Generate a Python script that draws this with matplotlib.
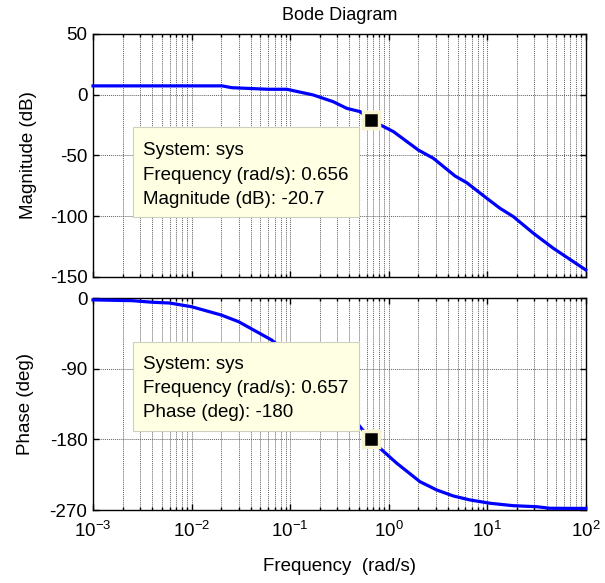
import matplotlib
matplotlib.use('Agg')
import matplotlib.pyplot as plt
import matplotlib.ticker as mticker
from matplotlib.patches import Rectangle

plt.rcParams['font.family'] = ['Liberation Sans', 'DejaVu Sans']
plt.rcParams['mathtext.default'] = 'regular'
plt.rcParams['axes.unicode_minus'] = False

# magnitude curve
w_mag = [0.001, 0.0204, 0.0256, 0.0597, 0.0925, 0.172, 0.273, 0.376, 0.513, 0.656,
         1.12, 2.0, 2.84, 4.72, 6.2, 9.9, 13.5, 18.4, 29.4, 46.9, 100]
mag_db = [7.3, 7.3, 5.8, 4.5, 4.5, -0.2, -5.7, -11.2, -13.9, -20.7,
          -30.4, -45.5, -52.3, -66.9, -72.4, -85.2, -93.5, -100.3, -114.0, -126.4, -144.2]

# phase curve
w_ph = [0.001, 0.0025, 0.004, 0.006, 0.01, 0.02, 0.03, 0.0458, 0.065, 0.1, 0.15, 0.2,
        0.3, 0.4, 0.513, 0.657, 0.818, 1.21, 2.08, 3.08, 4.53, 6.70, 10.7, 18.4, 31.8, 43.4, 100]
phase_deg = [-2, -3, -5, -6, -10.7, -21.3, -29.8, -42.6, -53.2, -72, -92, -108,
             -128, -147, -163.8, -180, -191.3, -210.4, -233.9, -244.5, -252.1, -257.2,
             -261.4, -264.5, -265.8, -267.8, -268]

# data tips
tip_mag = (0.656, -20.7)
tip_ph = (0.657, -180)
tip_mag_text = ['System: sys', 'Frequency (rad/s): 0.656', 'Magnitude (dB): -20.7']
tip_ph_text = ['System: sys', 'Frequency (rad/s): 0.657', 'Phase (deg): -180']

mag_ticks = [-150, -100, -50, 0, 50]
ph_ticks = [-270, -180, -90, 0]

fig = plt.figure(figsize=(6.05, 5.83), dpi=100, facecolor='w')
ax1 = fig.add_axes([0.1537, 0.5249, 0.8145, 0.4168])
ax2 = fig.add_axes([0.1537, 0.1252, 0.8145, 0.3631])

def style(ax):
    ax.set_xscale('log')
    ax.set_xlim(1e-3, 1e2)
    ax.xaxis.set_major_locator(mticker.LogLocator(base=10, numticks=10))
    ax.xaxis.set_minor_locator(mticker.LogLocator(base=10, subs=range(2, 10), numticks=10))
    ax.grid(True, which='both', axis='x', color='#606060', linestyle=(0, (1, 1)), lw=0.7)
    ax.grid(True, which='major', axis='y', color='#606060', linestyle=(0, (1, 1)), lw=0.7)
    ax.tick_params(which='both', direction='in', top=True, right=True, labelsize=13.5)
    ax.tick_params(which='major', length=4, width=1)
    ax.tick_params(which='minor', length=2.5, width=1)
    ax.tick_params(axis='y', pad=4)
    ax.tick_params(axis='x', pad=8)
    for s in ax.spines.values():
        s.set_linewidth(1)
        s.set_color('k')

def datatip(ax, x0, y0, x1, y1, tx, ys, lines):
    ax.add_patch(Rectangle((x0, y0), x1 - x0, y1 - y0, transform=ax.transAxes,
                           facecolor='#ffffe4', edgecolor='#cfcfbf', lw=0.8, zorder=5))
    for yy, t in zip(ys, lines):
        ax.text(tx, yy, t, transform=ax.transAxes, fontsize=13.5, va='baseline',
                ha='left', zorder=6)

# Magnitude
style(ax1)
ax1.plot(w_mag, mag_db, color='#0000ff', lw=2.3, zorder=3, clip_on=False)
ax1.set_ylim(-150, 50)
ax1.set_yticks(mag_ticks)
ax1.tick_params(axis='x', labelbottom=False)
ax1.set_ylabel('Magnitude (dB)', fontsize=13.5)
ax1.yaxis.set_label_coords(-0.1137, 0.5)
datatip(ax1, 0.0818, 0.2457, 0.5405, 0.6185, 0.1009, [0.5021, 0.3992, 0.3004], tip_mag_text)
ax1.plot([tip_mag[0]], [tip_mag[1]], marker='s', ms=11.5, mfc='k', mec='#f7f3d0',
         mew=2.5, zorder=7)

# Phase
style(ax2)
ax2.plot(w_ph, phase_deg, color='#0000ff', lw=2.3, zorder=3, clip_on=False)
ax2.set_ylim(-270, 0)
ax2.set_yticks(ph_ticks)
ax2.set_ylabel('Phase (deg)', fontsize=13.5)
ax2.yaxis.set_label_coords(-0.12, 0.5)
ax2.set_xlabel('Frequency  (rad/s)', fontsize=13.5)
ax2.xaxis.set_label_coords(0.5, -0.2267)
ax2.xaxis.label.set_va('top')
datatip(ax2, 0.0818, 0.3746, 0.5405, 0.795, 0.1009, [0.6646, 0.5512, 0.4409], tip_ph_text)
ax2.plot([tip_ph[0]], [tip_ph[1]], marker='s', ms=11.5, mfc='k', mec='#f7f3d0',
         mew=2.5, zorder=7)

fig.text(0.561, 1 - 20 / 583, 'Bode Diagram', ha='center', va='baseline', fontsize=13)

fig.savefig('out.png', dpi=100)
